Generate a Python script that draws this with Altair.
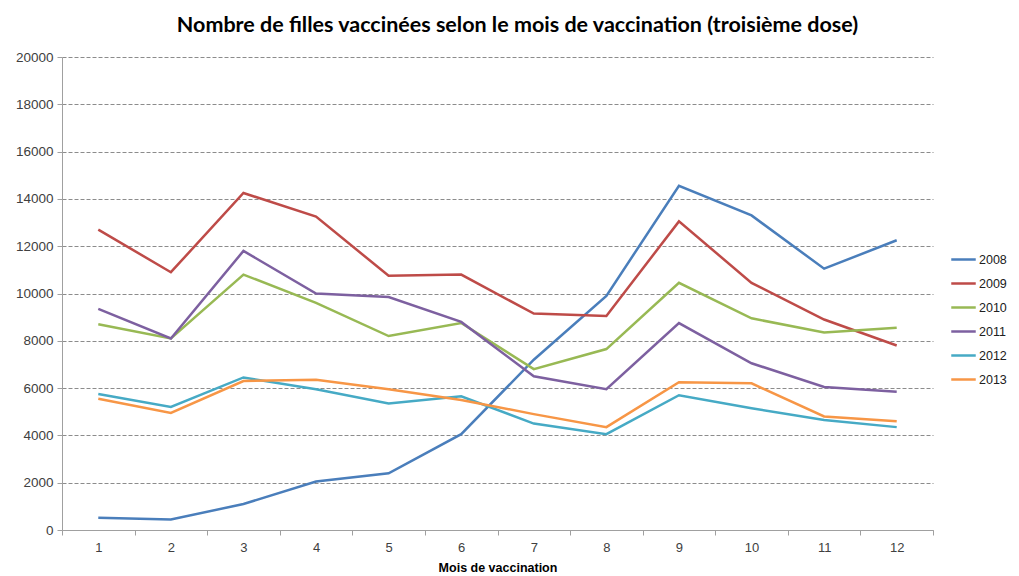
import altair as alt
import pandas as pd

months = list(range(1, 13))
years = ["2008", "2009", "2010", "2011", "2012", "2013"]
v2008 = [520, 440, 1100, 2050, 2400, 4050, 7200, 9900, 14550, 13300, 11050, 12250]
v2009 = [12700, 10900, 14250, 13250, 10750, 10800, 9150, 9050, 13050, 10450, 8900, 7800]
v2010 = [8700, 8100, 10800, 9600, 8200, 8750, 6800, 7650, 10450, 8950, 8350, 8550]
v2011 = [9350, 8100, 11800, 10000, 9850, 8800, 6500, 5950, 8750, 7050, 6050, 5850]
v2012 = [5750, 5200, 6450, 5950, 5350, 5650, 4500, 4050, 5700, 5150, 4650, 4350]
v2013 = [5550, 4950, 6300, 6350, 5950, 5500, 4900, 4350, 6250, 6200, 4800, 4600]
colors = ["#4A7EBB", "#BE4B48", "#98B954", "#7D60A0", "#46AAC5", "#F79646"]

series = [v2008, v2009, v2010, v2011, v2012, v2013]
rows = []
for y, vals in zip(years, series):
    for m, v in zip(months, vals):
        rows.append({"mois": m, "annee": y, "valeur": v})
df = pd.DataFrame(rows)

tick_vals = [m - 0.5 for m in months] + [12.5] + months

chart = alt.Chart(df).mark_line(strokeWidth=2.5).encode(
    x=alt.X("mois:Q",
            scale=alt.Scale(domain=[0.5, 12.5], nice=False, zero=False),
            axis=alt.Axis(values=sorted(tick_vals),
                          labelExpr="datum.value % 1 == 0 ? format(datum.value, 'd') : ''",
                          tickOpacity=alt.expr("datum.value % 1 == 0 ? 0 : 1"),
                          labelOverlap=False, grid=False,
                          title="Mois de vaccination",
                          titleFont="Liberation Sans", titleFontSize=12.5,
                          titleFontWeight="bold", titleColor="#000000",
                          titlePadding=7,
                          labelFont="Liberation Sans", labelFontSize=13,
                          labelColor="#404040", labelPadding=6,
                          domainColor="#A0A0A0", tickColor="#A0A0A0",
                          tickSize=5)),
    y=alt.Y("valeur:Q",
            scale=alt.Scale(domain=[0, 20000], nice=False),
            axis=alt.Axis(values=list(range(0, 20001, 2000)), format="d",
                          title=None, grid=True, gridDash=[4, 2],
                          gridColor="#8C8C8C", gridWidth=1,
                          labelFont="Liberation Sans", labelFontSize=13.5,
                          labelColor="#404040", labelPadding=4,
                          domainColor="#A0A0A0", tickColor="#A0A0A0",
                          tickSize=5)),
    color=alt.Color("annee:N",
                    scale=alt.Scale(domain=years, range=colors),
                    legend=alt.Legend(title=None, orient="none",
                                      legendX=888, legendY=189,
                                      symbolType="stroke", symbolSize=600,
                                      symbolStrokeWidth=2.5,
                                      labelFont="Liberation Sans",
                                      labelFontSize=12.5, labelColor="#202020",
                                      rowPadding=4, labelOffset=2)),
).properties(
    width=871, height=473,
    autosize=alt.AutoSizeParams(type="none"),
    padding={"left": 54, "top": 49, "right": 78, "bottom": 46},
    title=alt.TitleParams(
        "Nombre de filles vaccinées selon le mois de vaccination (troisième dose)",
        font="Lato", fontSize=21.5, fontWeight="bold", color="#000000",
        anchor="middle", frame="group", dx=20, offset=14),
).configure_view(stroke=None)

chart.save("out.html", embed_options={"renderer": "svg", "actions": False})
